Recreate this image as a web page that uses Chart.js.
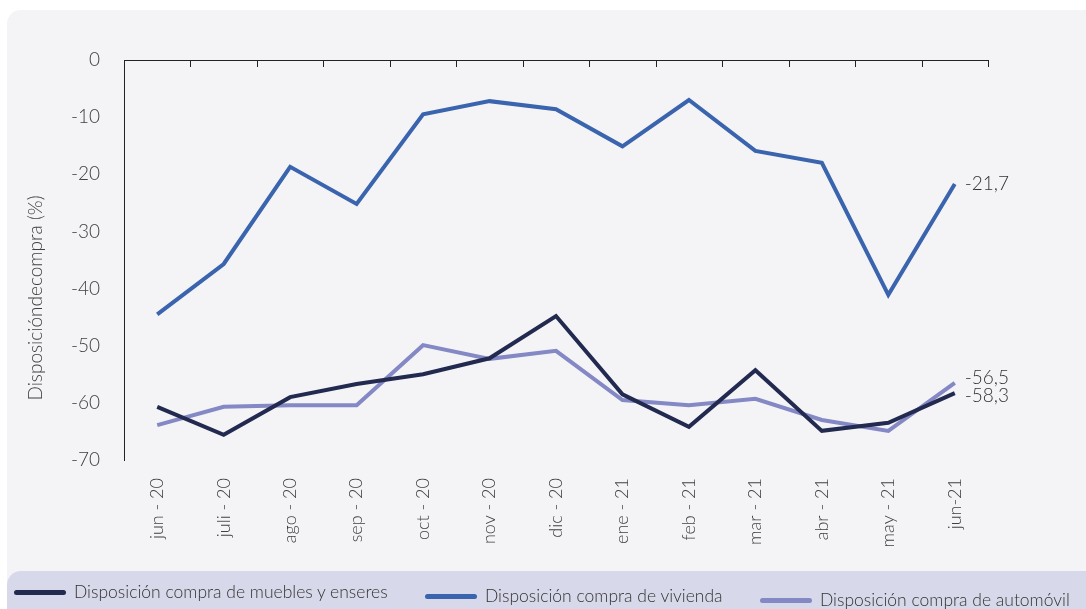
<!DOCTYPE html>
<html>
<head>
<meta charset="utf-8">
<script src="https://cdn.jsdelivr.net/npm/chart.js@4.4.1/dist/chart.umd.min.js"></script>
<style>
  html, body { margin: 0; padding: 0; background: #ffffff; overflow: hidden; }
  .wrap { position: relative; width: 1086px; height: 609px; overflow: hidden; font-family: Lato, "Open Sans", sans-serif; }
  .card { position: absolute; left: 7px; top: 10px; width: 1100px; height: 620px; background: #f4f4f7; border-radius: 14px; }
  .band { position: absolute; left: 7px; top: 571px; width: 1100px; height: 60px; background: #d7d8ea; border-radius: 14px; }
  .box { position: absolute; left: 0; top: 0; width: 1086px; height: 609px; }
  .legend-item { position: absolute; white-space: nowrap; font-size: 17.5px; font-weight: 300; color: #333333; line-height: 20px; }
  .legend-item i { display: inline-block; width: 52px; height: 5px; border-radius: 3px; vertical-align: middle; margin-right: 8px; position: relative; top: -1px; }
</style>
</head>
<body>
<div class="wrap">
  <div class="card"></div>
  <div class="band"></div>
  <div class="box"><canvas id="chart"></canvas></div>
  <div id="legend"></div>
</div>
<script>
  const months = ["jun - 20", "juli - 20", "ago - 20", "sep - 20", "oct - 20", "nov - 20", "dic - 20",
    "ene - 21", "feb - 21", "mar - 21", "abr - 21", "may - 21", "jun-21"];
  const muebles = [-60.7, -65.6, -59.0, -56.7, -55.0, -52.2, -44.8, -58.5, -64.2, -54.3, -64.9, -63.5, -58.3];
  const vivienda = [-44.5, -35.7, -18.7, -25.2, -9.5, -7.2, -8.6, -15.1, -7.0, -15.9, -18.0, -41.1, -21.7];
  const automovil = [-63.9, -60.7, -60.4, -60.4, -49.9, -52.3, -50.9, -59.5, -60.4, -59.3, -63.0, -64.9, -56.5];
  const yTicks = [0, -10, -20, -30, -40, -50, -60, -70];
  const seriesNames = ["Disposición compra de muebles y enseres", "Disposición compra de vivienda", "Disposición compra de automóvil"];
  const seriesColors = ["#232a50", "#3a64ad", "#8488c4"];

  const font = "Lato, 'Open Sans', sans-serif";
  const textColor = "#404040";

  // zero line with category tick marks, like the original axis crossing
  const zeroAxis = {
    id: "zeroAxis",
    afterDatasetsDraw(chart) {
      const ctx = chart.ctx;
      const x = chart.scales.x;
      const y = chart.scales.y;
      const y0 = Math.round(y.getPixelForValue(0));
      const step = x.getPixelForTick(1) - x.getPixelForTick(0);
      ctx.save();
      ctx.strokeStyle = "#222222";
      ctx.lineWidth = 1;
      ctx.beginPath();
      ctx.moveTo(chart.chartArea.left, y0 + 0.5);
      ctx.lineTo(chart.chartArea.right, y0 + 0.5);
      for (let i = 1; i <= months.length; i++) {
        const px = Math.round(x.getPixelForTick(i - 1) + step / 2) + 0.5;
        ctx.moveTo(px, y0);
        ctx.lineTo(px, y0 + 7);
      }
      ctx.stroke();

      // axis title, sits a bit lower than the middle of the axis
      const mid = (chart.chartArea.top + chart.chartArea.bottom) / 2 + 38;
      ctx.translate(36, mid);
      ctx.rotate(-Math.PI / 2);
      ctx.font = "300 19px " + font;
      ctx.fillStyle = textColor;
      ctx.textAlign = "center";
      ctx.textBaseline = "middle";
      ctx.fillText("Disposicióndecompra (%)", 0, 0);
      ctx.restore();
    }
  };

  // value labels at the last point of every series
  const endLabels = {
    id: "endLabels",
    afterDatasetsDraw(chart) {
      const ctx = chart.ctx;
      const shifts = [3, 0, -5];
      ctx.save();
      ctx.font = "300 19px " + font;
      ctx.fillStyle = "#333333";
      ctx.textBaseline = "middle";
      chart.data.datasets.forEach((ds, i) => {
        const meta = chart.getDatasetMeta(i);
        const pt = meta.data[meta.data.length - 1];
        const v = ds.data[ds.data.length - 1];
        const txt = v.toFixed(1).replace(".", ",");
        ctx.fillText(txt, pt.x + 10, pt.y + shifts[i]);
      });
      ctx.restore();
    }
  };

  new Chart(document.getElementById("chart"), {
    type: "line",
    data: {
      labels: months,
      datasets: [
        { label: seriesNames[0], data: muebles, borderColor: seriesColors[0] },
        { label: seriesNames[1], data: vivienda, borderColor: seriesColors[1] },
        { label: seriesNames[2], data: automovil, borderColor: seriesColors[2] }
      ]
    },
    options: {
      responsive: true,
      maintainAspectRatio: false,
      animation: false,
      layout: { padding: { top: 60, right: 98, left: 0, bottom: 0 } },
      elements: {
        line: { borderWidth: 4, tension: 0, borderJoinStyle: "miter" },
        point: { radius: 0 }
      },
      plugins: {
        tooltip: { enabled: false },
        legend: { display: false }
      },
      scales: {
        x: {
          offset: true,
          grid: { display: false, drawTicks: false },
          border: { display: false },
          ticks: {
            minRotation: 90,
            maxRotation: 90,
            padding: 18,
            color: textColor,
            font: { family: font, size: 18, weight: "300" }
          },
          afterFit(scale) { scale.height = 149; }
        },
        y: {
          min: -70,
          max: 0,
          afterBuildTicks(scale) { scale.ticks = yTicks.map(v => ({ value: v })); },
          grid: { display: false, drawTicks: false },
          border: { display: true, color: "#222222", width: 1 },
          ticks: {
            padding: 24,
            color: textColor,
            font: { family: font, size: 19, weight: "300" }
          },
          afterFit(scale) { scale.width = 124; }
        }
      }
    },
    plugins: [zeroAxis, endLabels]
  });

  // legend row along the bottom band
  const legendPos = [[14, 582], [425, 586], [760, 590]];
  const legend = document.getElementById("legend");
  seriesNames.forEach((name, i) => {
    const item = document.createElement("div");
    item.className = "legend-item";
    item.style.left = legendPos[i][0] + "px";
    item.style.top = legendPos[i][1] + "px";
    item.innerHTML = `<i style="background:${seriesColors[i]}"></i>${name}`;
    legend.appendChild(item);
  });
</script>
</body>
</html>
